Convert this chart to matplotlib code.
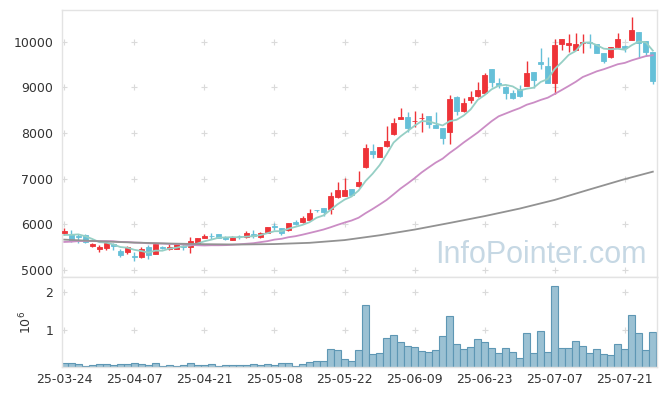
import numpy as np
import pandas as pd
import matplotlib
matplotlib.use('Agg')
import matplotlib.pyplot as plt

# daily candles, 85 trading days (25-03-24 .. 25-07-25)
open_ = [5805, 5780, 5740, 5765, 5515, 5470, 5480, 5565, 5420, 5390,
         5310, 5275, 5495, 5360, 5500, 5450, 5470, 5515, 5500, 5565,
         5710, 5755, 5785, 5730, 5660, 5755, 5720, 5780, 5720, 5820,
         5955, 5910, 5865, 6055, 6055, 6100, 6315, 6350, 6330, 6590,
         6630, 6765, 6830, 7245, 7610, 7485, 7720, 7975, 8310, 8355,
         8255, 8320, 8370, 8175, 8100, 8030, 8795, 8485, 8725, 8800,
         8875, 9400, 9090, 9000, 8880, 8955, 9030, 9340, 9560, 9465,
         9090, 9945, 9935, 9820, 9975, 9985, 9940, 9755, 9660, 9880,
         9905, 10040, 10210, 10015, 9780]
high = [5913, 5876, 5782, 5780, 5600, 5548, 5620, 5585, 5460, 5530,
        5388, 5500, 5540, 5590, 5520, 5560, 5580, 5560, 5730, 5710,
        5790, 5800, 5790, 5740, 5740, 5767, 5855, 5880, 5840, 5935,
        6020, 5920, 6040, 6095, 6190, 6330, 6320, 6355, 6715, 6934,
        7022, 6770, 7168, 7753, 7753, 7690, 8154, 8322, 8541, 8467,
        8482, 8432, 8373, 8467, 8105, 8833, 8800, 8760, 8927, 9111,
        9308, 9405, 9198, 9020, 8942, 9052, 9577, 9345, 9869, 9672,
        10053, 10060, 10169, 10184, 10169, 10169, 9945, 9760, 9877, 10197,
        9928, 10548, 10212, 10020, 9785]
low = [5767, 5620, 5585, 5600, 5510, 5388, 5438, 5438, 5290, 5350,
       5197, 5255, 5250, 5350, 5460, 5438, 5460, 5440, 5380, 5560,
       5700, 5680, 5700, 5650, 5650, 5672, 5694, 5700, 5694, 5815,
       5880, 5767, 5850, 5985, 6036, 6095, 6260, 6190, 6227, 6584,
       6627, 6640, 6824, 7241, 7447, 7480, 7700, 7960, 8307, 8029,
       8138, 8016, 8103, 8110, 7760, 7760, 8395, 8467, 8650, 8780,
       8850, 9015, 8980, 8739, 8739, 8782, 9030, 8980, 9400, 9090,
       8848, 9818, 9781, 9815, 9746, 9855, 9750, 9527, 9636, 9870,
       9781, 10037, 9636, 9687, 9074]
close = [5850, 5645, 5720, 5610, 5570, 5505, 5590, 5515, 5335, 5495,
         5275, 5460, 5335, 5560, 5480, 5505, 5560, 5500, 5640, 5690,
         5755, 5740, 5710, 5670, 5725, 5735, 5815, 5750, 5800, 5935,
         5945, 5820, 6020, 6010, 6145, 6240, 6305, 6280, 6620, 6750,
         6750, 6645, 6930, 7665, 7550, 7685, 7830, 8225, 8350, 8120,
         8270, 8335, 8200, 8120, 7900, 8740, 8490, 8660, 8795, 8940,
         9270, 9125, 9050, 8885, 8775, 8820, 9320, 9165, 9515, 9090,
         9925, 10055, 9970, 9940, 9995, 9970, 9750, 9580, 9875, 10050,
         9860, 10255, 9980, 9785, 9145]
# volume in millions of shares
volume_m = [0.11, 0.11, 0.085, 0.03, 0.06, 0.085, 0.085, 0.06, 0.085, 0.085,
            0.11, 0.085, 0.06, 0.11, 0.03, 0.06, 0.03, 0.06, 0.11, 0.06,
            0.06, 0.085, 0.03, 0.06, 0.06, 0.06, 0.06, 0.085, 0.06, 0.085,
            0.06, 0.11, 0.11, 0.03, 0.085, 0.14, 0.16, 0.16, 0.48, 0.46,
            0.22, 0.17, 0.46, 1.66, 0.35, 0.38, 0.78, 0.86, 0.68, 0.56,
            0.54, 0.44, 0.41, 0.46, 0.83, 1.36, 0.62, 0.48, 0.54, 0.75,
            0.68, 0.51, 0.38, 0.51, 0.40, 0.24, 0.91, 0.38, 0.96, 0.40,
            2.16, 0.51, 0.51, 0.70, 0.56, 0.38, 0.48, 0.35, 0.32, 0.62,
            0.48, 1.39, 0.91, 0.46, 0.94]
# closes before the visible window (for the 5/20 day averages)
prior_close = [5520, 5480, 5550, 5600, 5570, 5530, 5590, 5620, 5560, 5510,
               5540, 5580, 5600, 5570, 5625, 5630, 5670, 5810, 5875]
# long moving average (grey line)
long_ma_idx = [0, 5, 10, 15, 20, 25, 30, 35, 40, 45, 50, 55, 60, 65, 70, 75, 80, 84]
long_ma = [5665, 5630, 5600, 5580, 5565, 5558, 5568, 5595, 5655, 5760,
           5885, 6030, 6180, 6345, 6535, 6765, 6990, 7153]
tick_labels = ['25-03-24', '25-04-07', '25-04-21', '25-05-08', '25-05-22',
               '25-06-09', '25-06-23', '25-07-07', '25-07-21']

up_color = '#EE3338'
down_color = '#66C0D8'
frame_color = '#E3E3E3'
text_color = '#333333'

o = np.array(open_)
c = np.array(close)
x = np.arange(len(c))
colors = np.where(c >= o, up_color, down_color)

fig = plt.figure(figsize=(6.65, 3.96), dpi=100)
ax = fig.add_axes([0.0928, 0.29975, 0.8952, 0.675])
axv = fig.add_axes([0.0928, 0.07197, 0.8952, 0.2278], sharex=ax)

# candles
ax.vlines(x, low, high, colors=colors, lw=1, zorder=2)
ax.bar(x, np.abs(c - o), bottom=np.minimum(o, c), width=0.7,
       color=colors, edgecolor=colors, linewidth=0.6, zorder=3)

# moving averages
s = pd.Series(prior_close + close, dtype=float)
ma5 = s.rolling(5).mean().values[len(prior_close):]
ma20 = s.rolling(20).mean().values[len(prior_close):]
ax.plot(x, ma5, color='#96CFC5', lw=1.3, zorder=4)
ax.plot(x, ma20, color='#CB8DC5', lw=1.3, zorder=4)
ax.plot(long_ma_idx, long_ma, color='#929292', lw=1.3, zorder=4)

ax.text(0.9827, 0.0524, 'InfoPointer.com', transform=ax.transAxes,
        ha='right', va='baseline', fontsize=22, color='#C6D8E4',
        family='Liberation Sans', zorder=1)

# volume
axv.bar(x, volume_m, width=1.0, color='#9BC1D3', edgecolor='#5E97B4',
        linewidth=0.8, zorder=2)

xt = np.arange(0, 81, 10)
yt_price = np.arange(5000, 10001, 1000)
yt_vol = [1, 2]

for a, yt in ((ax, yt_price), (axv, yt_vol)):
    gx, gy = np.meshgrid(xt, yt)
    a.plot(gx.ravel(), gy.ravel(), ls='none', marker='+', ms=5, mew=0.8,
           color='#DADADA', zorder=0.5)
    a.set_yticks(yt)
    a.tick_params(length=0, pad=6, labelsize=9, labelcolor=text_color)
    for sp in a.spines.values():
        sp.set_color(frame_color)
        sp.set_linewidth(1)

ax.set_xlim(-0.37, 84.6)
ax.set_ylim(4840, 10694)
ax.tick_params(axis='x', labelbottom=False)

axv.set_ylim(0, 2.40)
axv.set_yticklabels(['1', '2'])
axv.set_xticks(xt)
axv.set_xticklabels(tick_labels)
axv.tick_params(axis='x', pad=4)
axv.set_ylabel(r'$10^6$', fontsize=9, color=text_color, labelpad=8)

fig.savefig('out.png', dpi=100)
